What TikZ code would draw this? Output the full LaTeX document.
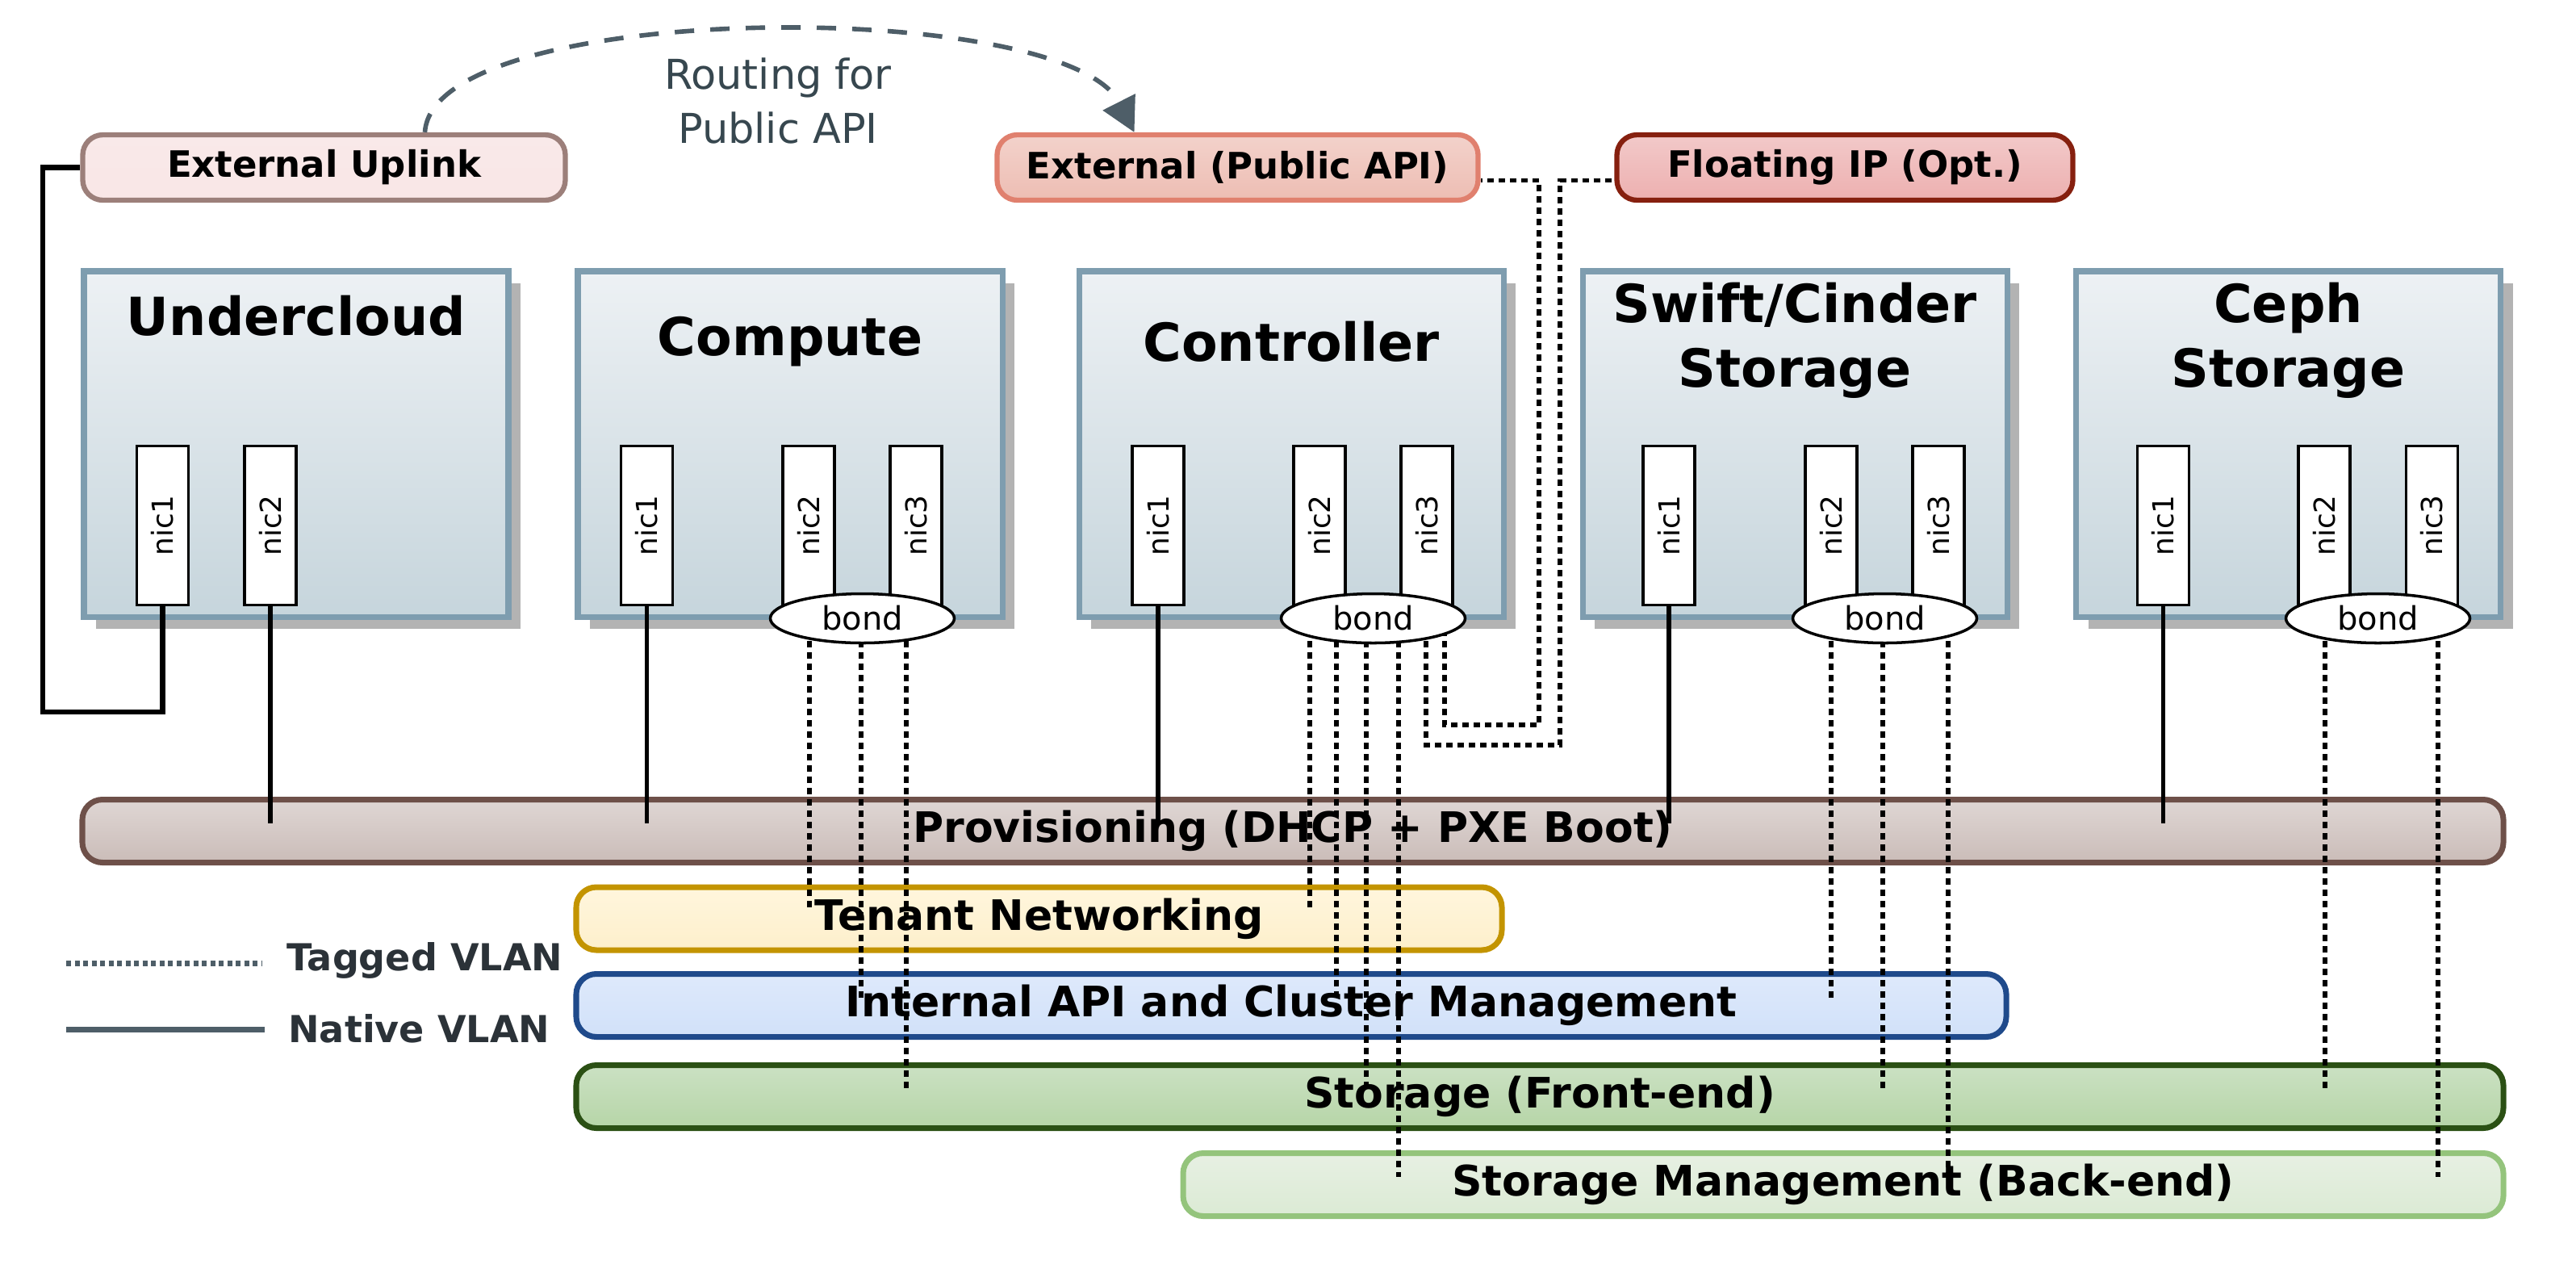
\documentclass[tikz,border=0pt]{standalone}
\usepackage{fontspec}
\setmainfont{DejaVu Sans}
\usetikzlibrary{calc,shadows,shapes.geometric,arrows.meta}

\definecolor{hostborder}{HTML}{7E9DAF}
\definecolor{hosttop}{HTML}{EDF1F4}
\definecolor{hostbot}{HTML}{C6D5DC}
\definecolor{shadowgray}{HTML}{B3B3B3}
\definecolor{slate}{HTML}{4E5E68}
\definecolor{keytext}{HTML}{2B3238}
\definecolor{routetext}{HTML}{37474F}
\definecolor{uplinkdraw}{HTML}{9C7F7A}
\definecolor{uplinktop}{HTML}{F9E9E9}
\definecolor{uplinkbot}{HTML}{F9E6E6}
\definecolor{apidraw}{HTML}{E0806E}
\definecolor{apitop}{HTML}{F3D2CB}
\definecolor{apibot}{HTML}{EDBDB3}
\definecolor{fipdraw}{HTML}{86200F}
\definecolor{fiptop}{HTML}{F2C9C9}
\definecolor{fipbot}{HTML}{EDB0B0}
\definecolor{provdraw}{HTML}{6E5049}
\definecolor{provtop}{HTML}{DFD6D4}
\definecolor{provbot}{HTML}{CABCB8}
\definecolor{tendraw}{HTML}{C39400}
\definecolor{tentop}{HTML}{FFF6DD}
\definecolor{tenbot}{HTML}{FDEFCB}
\definecolor{intdraw}{HTML}{1F4A8B}
\definecolor{inttop}{HTML}{DEE9FB}
\definecolor{intbot}{HTML}{D1E1F9}
\definecolor{stordraw}{HTML}{2B5014}
\definecolor{stortop}{HTML}{CBE1C3}
\definecolor{storbot}{HTML}{B6D5A7}
\definecolor{mgmtdraw}{HTML}{94C47C}
\definecolor{mgmttop}{HTML}{E7F0E3}
\definecolor{mgmtbot}{HTML}{DBEAD4}

\pgfdeclarelayer{front}
\pgfsetlayers{main,front}

\tikzset{
	host/.style={draw=hostborder, line width=2pt, top color=hosttop, bottom color=hostbot,
		minimum width=52.6mm, minimum height=42.8mm, inner sep=0pt,
		drop shadow={shadow xshift=1.5mm, shadow yshift=-1.5mm, fill=shadowgray, opacity=1}},
	hosttitle/.style={font=\fontsize{18.5}{22.8}\selectfont\bfseries, align=center},
	nic/.style={draw, fill=white, line width=1pt, minimum width=6.4mm, minimum height=19.7mm,
		inner sep=0pt, font=\fontsize{10.2}{12}\selectfont},
	bond/.style={ellipse, draw, fill=white, line width=1pt, minimum width=22.8mm,
		minimum height=6.1mm, inner sep=0pt, font=\fontsize{11.4}{12}\selectfont},
	toplink/.style n args={3}{draw=#1, top color=#2, bottom color=#3, rounded corners=2.5mm,
		line width=1.8pt, minimum height=8.1mm, font=\fontsize{12.8}{14}\selectfont\bfseries},
	net/.style n args={3}{draw=#1, top color=#2, bottom color=#3, rounded corners=2.5mm,
		line width=2pt, minimum height=7.8mm, font=\fontsize{14.8}{16}\selectfont\bfseries},
	native/.style={line width=1.5pt, shorten >=1mm},
	tagged/.style={line width=1.6pt, dash pattern=on 0.8mm off 0.6mm, shorten >=1mm},
	routing/.style={slate, line width=1.6pt, dash pattern=on 2.4mm off 2mm,
		-{Triangle[length=4.2mm,width=4.4mm]}},
	keytext/.style={text=keytext, anchor=mid west, font=\fontsize{13.1}{14}\selectfont\bfseries}
}

\begin{document}
\begin{tikzpicture}[x=1mm, y=-1mm, line cap=butt, line join=miter]
	\useasboundingbox (0,0) rectangle (319.2,157.6);

	% external links
	\node[toplink={uplinkdraw}{uplinktop}{uplinkbot}, minimum width=59.8mm] (uplink) at (40.15,20.75) {External Uplink};
	\node[toplink={apidraw}{apitop}{apibot}, minimum width=59.6mm] (extapi) at (153.35,20.75) {External (Public API)};
	\node[toplink={fipdraw}{fiptop}{fipbot}, minimum width=56.5mm] (floating) at (228.6,20.75) {Floating IP (Opt.)};
	\node[font=\fontsize{14.5}{18.8}\selectfont, text=routetext, align=center] (routing) at (96.4,12.5) {Routing for\\Public API};

	% hosts
	\node[host] (uc) at (36.7,55) {};
	\node[host] (cmp) at (97.9,55) {};
	\node[host] (ctl) at (160,55) {};
	\node[host] (swf) at (222.4,55) {};
	\node[host] (cph) at (283.55,55) {};
	\node[hosttitle] at (36.7,39.1) {Undercloud};
	\node[hosttitle] at (97.9,42.3) {Compute};
	\node[hosttitle] at (160,42.3) {Controller};
	\node[hosttitle] at (222.4,42.2) {Swift/Cinder\\Storage};
	\node[hosttitle] at (283.55,42.2) {Ceph\\Storage};

	\foreach \h/\i/\x in {uc/1/20.15, uc/2/33.5, cmp/1/80.15, cmp/2/100.2, cmp/3/113.5,
		ctl/1/143.5, ctl/2/163.5, ctl/3/176.8, swf/1/206.8, swf/2/226.9, swf/3/240.2,
		cph/1/268.05, cph/2/288, cph/3/301.35}
		\node[nic] (\h\i) at (\x,65.1) {\rotatebox{90}{nic\i}};

	\begin{pgfonlayer}{front}
		\foreach \h/\x in {cmp/106.85, ctl/170.15, swf/233.55, cph/294.65}
			\node[bond] (\h bond) at (\x,76.6) {bond};
	\end{pgfonlayer}

	% networks
	\node[net={provdraw}{provtop}{provbot}, minimum width=300mm] (prov) at (160.2,102.95) {Provisioning (DHCP + PXE Boot)};
	\node[net={tendraw}{tentop}{tenbot}, minimum width=114.7mm] (tenant) at (128.75,113.8) {Tenant Networking};
	\node[net={intdraw}{inttop}{intbot}, minimum width=177.2mm] (intapi) at (160,124.55) {Internal API and Cluster Management};
	\node[net={stordraw}{stortop}{storbot}, minimum width=238.8mm] (stor) at (190.8,135.85) {Storage (Front-end)};
	\node[net={mgmtdraw}{mgmttop}{mgmtbot}, minimum width=163.6mm] (stormgmt) at (228.4,146.75) {Storage Management (Back-end)};

	% native vlans
	\coordinate (uplinkloop) at (5.3,88.2);
	\draw[line width=1.9pt] (uc1.south) |- (uplinkloop) |- (uplink.west);
	\foreach \n in {uc2, cmp1, ctl1, swf1, cph1}
		\draw[native] (\n.south) -- (\n.south |- prov.center);

	% tagged vlans
	\foreach \b/\dx/\n in {cmpbond/-6.55/tenant, cmpbond/-0.15/intapi, cmpbond/5.45/stor,
		ctlbond/-7.85/tenant, ctlbond/-4.55/intapi, ctlbond/-0.85/stor, ctlbond/3.15/stormgmt,
		swfbond/-6.65/intapi, swfbond/-0.25/stor, swfbond/7.85/stormgmt,
		cphbond/-6.55/stor, cphbond/7.45/stormgmt}
		\draw[tagged] ($(\b.center)+(\dx,0)$) coordinate (t) -- (t |- \n.center);

	\coordinate (apiturn) at (190.7,89.8);
	\coordinate (fipturn) at (193.3,92.3);
	\draw[tagged, shorten >=0pt] ($(ctlbond.center)+(8.85,0)$) |- (apiturn) |- ([yshift=-1.6mm]extapi.east);
	\draw[tagged, shorten >=0pt] ($(ctlbond.center)+(6.55,0)$) |- (fipturn) |- ([yshift=-1.6mm]floating.west);

	% routing arrow
	\draw[routing] ([xshift=12.5mm]uplink.north) .. controls +(1,-16.5) and +(-8.5,-16.8) .. ([xshift=-12.8mm]extapi.north);

	% key
	\node[keytext] (tagkey) at (34.3,119.3) {Tagged VLAN};
	\node[keytext] (natkey) at (34.5,128.2) {Native VLAN};
	\draw[slate, line width=2pt, dash pattern=on 0.6mm off 0.45mm] (8.2,119.3) -- (32.4,119.3);
	\draw[slate, line width=2pt] (8.2,127.5) -- (32.8,127.5);
\end{tikzpicture}
\end{document}
